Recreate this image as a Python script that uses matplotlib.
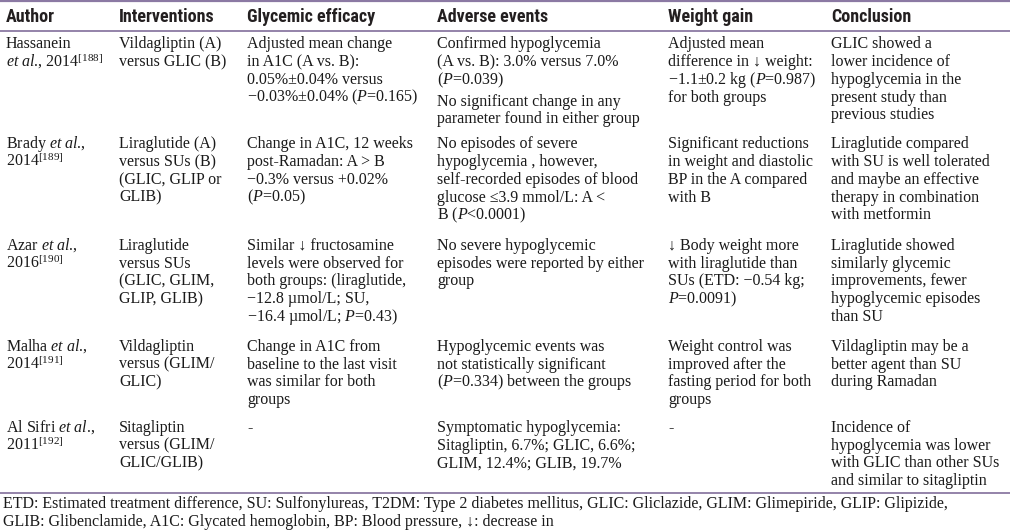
import matplotlib
matplotlib.use("Agg")
import matplotlib.pyplot as plt

plt.rcParams['mathtext.fontset'] = 'custom'
plt.rcParams['mathtext.rm'] = 'Liberation Serif'
plt.rcParams['mathtext.it'] = 'Liberation Serif:italic'
plt.rcParams['mathtext.bf'] = 'Liberation Serif:bold'

headers = ["Author", "Interventions", "Glycemic efficacy", "Adverse events",
           "Weight gain", "Conclusion"]

authors = [
    ["Hassanein", r"$\mathit{et\ al}$., 2014$^{\mathrm{[188]}}$"],
    [r"Brady $\mathit{et\ al}$.,", r"2014$^{\mathrm{[189]}}$"],
    [r"Azar $\mathit{et\ al}$.,", r"2016$^{\mathrm{[190]}}$"],
    [r"Malha $\mathit{et\ al}$.,", r"2014$^{\mathrm{[191]}}$"],
    [r"Al Sifri $\mathit{et\ al}$.,", r"2011$^{\mathrm{[192]}}$"],
]

interventions = [
    ["Vildagliptin (A)", "versus GLIC (B)"],
    ["Liraglutide (A)", "versus SUs (B)", "(GLIC, GLIP or", "GLIB)"],
    ["Liraglutide", "versus SUs", "(GLIC, GLIM,", "GLIP, GLIB)"],
    ["Vildagliptin", "versus (GLIM/", "GLIC)"],
    ["Sitagliptin", "versus (GLIM/", "GLIC/GLIB)"],
]

glycemic = [
    ["Adjusted mean change", "in A1C (A vs. B):", "0.05%±0.04% versus",
     r"−0.03%±0.04% ($\mathit{P}$=0.165)"],
    ["Change in A1C, 12 weeks", "post-Ramadan: A > B", "−0.3% versus +0.02%",
     r"($\mathit{P}$=0.05)"],
    ["Similar ↓ fructosamine", "levels were observed for",
     "both groups: (liraglutide,", "−12.8 µmol/L; SU,",
     r"−16.4 µmol/L; $\mathit{P}$=0.43)"],
    ["Change in A1C from", "baseline to the last visit", "was similar for both",
     "groups"],
    ["-"],
]

# None marks a paragraph break inside a cell
adverse = [
    ["Confirmed hypoglycemia", "(A vs. B): 3.0% versus 7.0%",
     r"($\mathit{P}$=0.039)", None, "No significant change in any",
     "parameter found in either group"],
    ["No episodes of severe", "hypoglycemia , however,",
     "self-recorded episodes of blood", "glucose ≤3.9 mmol/L: A <",
     r"B ($\mathit{P}$<0.0001)"],
    ["No severe hypoglycemic", "episodes were reported by either", "group"],
    ["Hypoglycemic events was", "not statistically significant",
     r"($\mathit{P}$=0.334) between the groups"],
    ["Symptomatic hypoglycemia:", "Sitagliptin, 6.7%; GLIC, 6.6%;",
     "GLIM, 12.4%; GLIB, 19.7%"],
]

weight = [
    ["Adjusted mean", "difference in ↓ weight:",
     r"−1.1±0.2 kg ($\mathit{P}$=0.987)", "for both groups"],
    ["Significant reductions", "in weight and diastolic",
     "BP in the A compared", "with B"],
    ["↓ Body weight more", "with liraglutide than", "SUs (ETD: −0.54 kg;",
     r"$\mathit{P}$=0.0091)"],
    ["Weight control was", "improved after the", "fasting period for both",
     "groups"],
    ["-"],
]

conclusion = [
    ["GLIC showed a", "lower incidence of", "hypoglycemia in the",
     "present study than", "previous studies"],
    ["Liraglutide compared", "with SU is well tolerated",
     "and maybe an effective", "therapy in combination", "with metformin"],
    ["Liraglutide showed", "similarly glycemic", "improvements, fewer",
     "hypoglycemic episodes", "than SU"],
    ["Vildagliptin may be a", "better agent than SU", "during Ramadan"],
    ["Incidence of", "hypoglycemia was lower", "with GLIC than other SUs",
     "and similar to sitagliptin"],
]

footnotes = [
    "ETD: Estimated treatment difference, SU: Sulfonylureas, T2DM: Type 2 diabetes "
    "mellitus, GLIC: Gliclazide, GLIM: Glimepiride, GLIP: Glipizide,",
    "GLIB: Glibenclamide, A1C: Glycated hemoglobin, BP: Blood pressure, ↓: decrease in",
]

columns = [authors, interventions, glycemic, adverse, weight, conclusion]

# ---- layout (pixels) ----
W, H = 1010, 532
col_x = [6, 119, 247, 437, 668, 831]
row_base = [48.5, 148.5, 250, 351, 432]
LH = 17.7
PGAP = 4.0
header_base = 21.5
rule_color = '#8b79a3'
text_color = '#1a1a1a'
body_size = 11.5
foot_size = 11.5
head_size = 13

fig = plt.figure(figsize=(W / 100, H / 100), dpi=100)
ax = fig.add_axes([0, 0, 1, 1])
ax.set_xlim(0, W)
ax.set_ylim(H, 0)
ax.axis('off')

# rules
for y, lw in [(0.8, 1.6), (30.5, 1.3), (492.5, 1.3)]:
    ax.plot([0, W], [y, y], color=rule_color, lw=lw, solid_capstyle='butt')

head_fonts = ['Roboto Condensed', 'Liberation Sans Narrow', 'Noto Sans Condensed',
              'DejaVu Sans Condensed', 'Roboto', 'DejaVu Sans']
for x, h in zip(col_x, headers):
    ax.text(x, header_base, h, fontsize=head_size, fontweight='bold',
            fontstretch='condensed', family=head_fonts,
            color='#231f20', va='baseline', ha='left')

body_font = ['Liberation Serif', 'DejaVu Serif']
for col, x in zip(columns, col_x):
    for r, cell in enumerate(col):
        y = row_base[r]
        for line in cell:
            if line is None:
                y += PGAP
                continue
            ax.text(x, y, line, fontsize=body_size, family=body_font,
                    color=text_color, va='baseline', ha='left')
            y += LH

for i, f in enumerate(footnotes):
    ax.text(3, 508.5 + i * 17.0, f, fontsize=foot_size, family=body_font,
            color=text_color, va='baseline', ha='left')

fig.savefig('out.png', dpi=100)
